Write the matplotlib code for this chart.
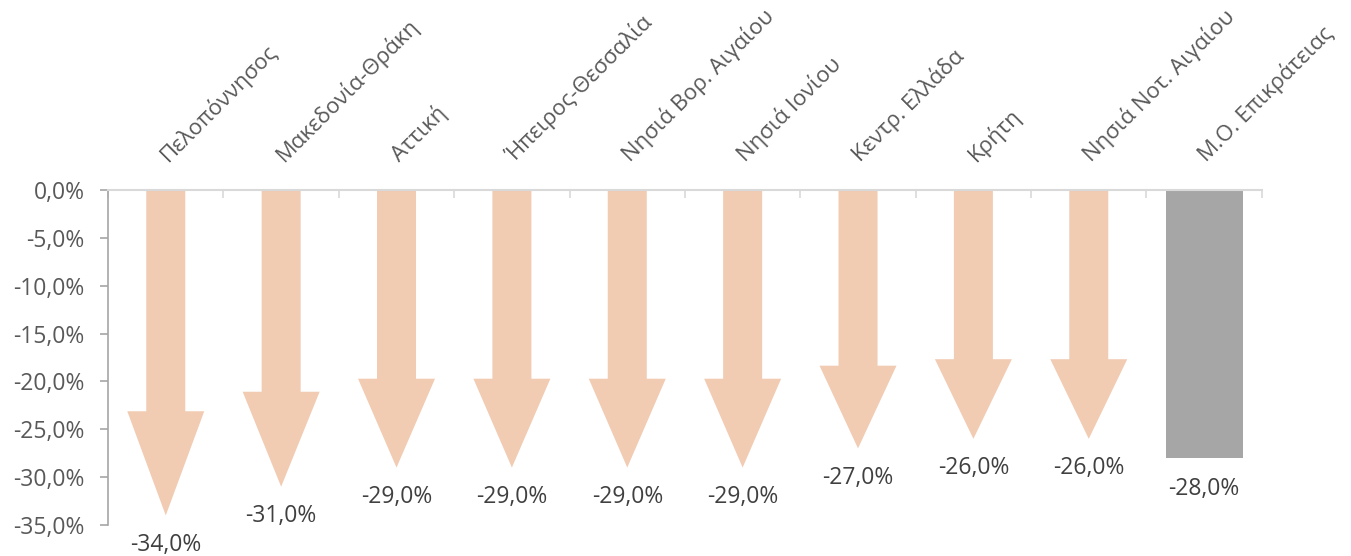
import numpy as np
import matplotlib.pyplot as plt

plt.rcParams['font.family'] = ['Open Sans', 'DejaVu Sans']

# data
regions = ['Πελοπόννησος', 'Μακεδονία-Θράκη', 'Αττική', 'Ήπειρος-Θεσσαλία',
           'Νησιά Βορ. Αιγαίου', 'Νησιά Ιονίου', 'Κεντρ. Ελλάδα', 'Κρήτη',
           'Νησιά Νοτ. Αιγαίου']
changes = [-34.0, -31.0, -29.0, -29.0, -29.0, -29.0, -27.0, -26.0, -26.0]
avg_label = 'Μ.Ο. Επικράτειας'
avg_change = -28.0

arrow_color = '#F1CBB2'
bar_color = '#A6A6A6'
text_color = '#595959'

fig = plt.figure(figsize=(13.51, 5.56), dpi=100)
ax = fig.add_axes([0.080, 0.0558, 0.854, 0.6025])

categories = regions + [avg_label]
n = len(categories)

def pct(v):
    return ('%.1f%%' % v).replace('.', ',')

for i, v in enumerate(changes):
    ax.arrow(i + 0.5, 0, 0, v, width=0.338, head_width=0.667,
             head_length=0.32 * abs(v), length_includes_head=True,
             color=arrow_color, linewidth=0)
    ax.annotate(pct(v), (i + 0.5, v), xytext=(0, -21),
                textcoords='offset points', ha='center', va='center',
                fontsize=16.5, color='#404040', annotation_clip=False)

ax.bar(n - 0.5, avg_change, width=0.667, color=bar_color)
ax.annotate(pct(avg_change), (n - 0.5, avg_change), xytext=(0, -22),
            textcoords='offset points', ha='center', va='center',
            fontsize=16.5, color='#404040', annotation_clip=False)

for i, name in enumerate(categories):
    ax.annotate(name, (i + 0.5, 0), xytext=(2, 20), textcoords='offset points',
                ha='left', va='baseline', rotation=45, rotation_mode='anchor',
                fontsize=16, color=text_color, annotation_clip=False)

ax.set_xlim(0, n)
ax.set_ylim(-35, 0)
yt = np.arange(-35, 1, 5)
ax.set_yticks(yt)
ax.set_yticklabels([pct(y) for y in yt])
ax.tick_params(axis='y', colors='#A6A6A6', labelcolor=text_color,
               labelsize=16.5, length=6, width=1.2, direction='out', pad=11)

ax.xaxis.tick_top()
ax.set_xticks(np.arange(0, n + 1))
ax.set_xticklabels([])
ax.tick_params(axis='x', colors='#D9D9D9', length=6, width=1.2, direction='in')

for s in ['right', 'bottom']:
    ax.spines[s].set_visible(False)
ax.spines['left'].set_color('#A6A6A6')
ax.spines['left'].set_linewidth(1.2)
ax.spines['top'].set_color('#D9D9D9')
ax.spines['top'].set_linewidth(1.5)

fig.savefig('out.png', dpi=100)
